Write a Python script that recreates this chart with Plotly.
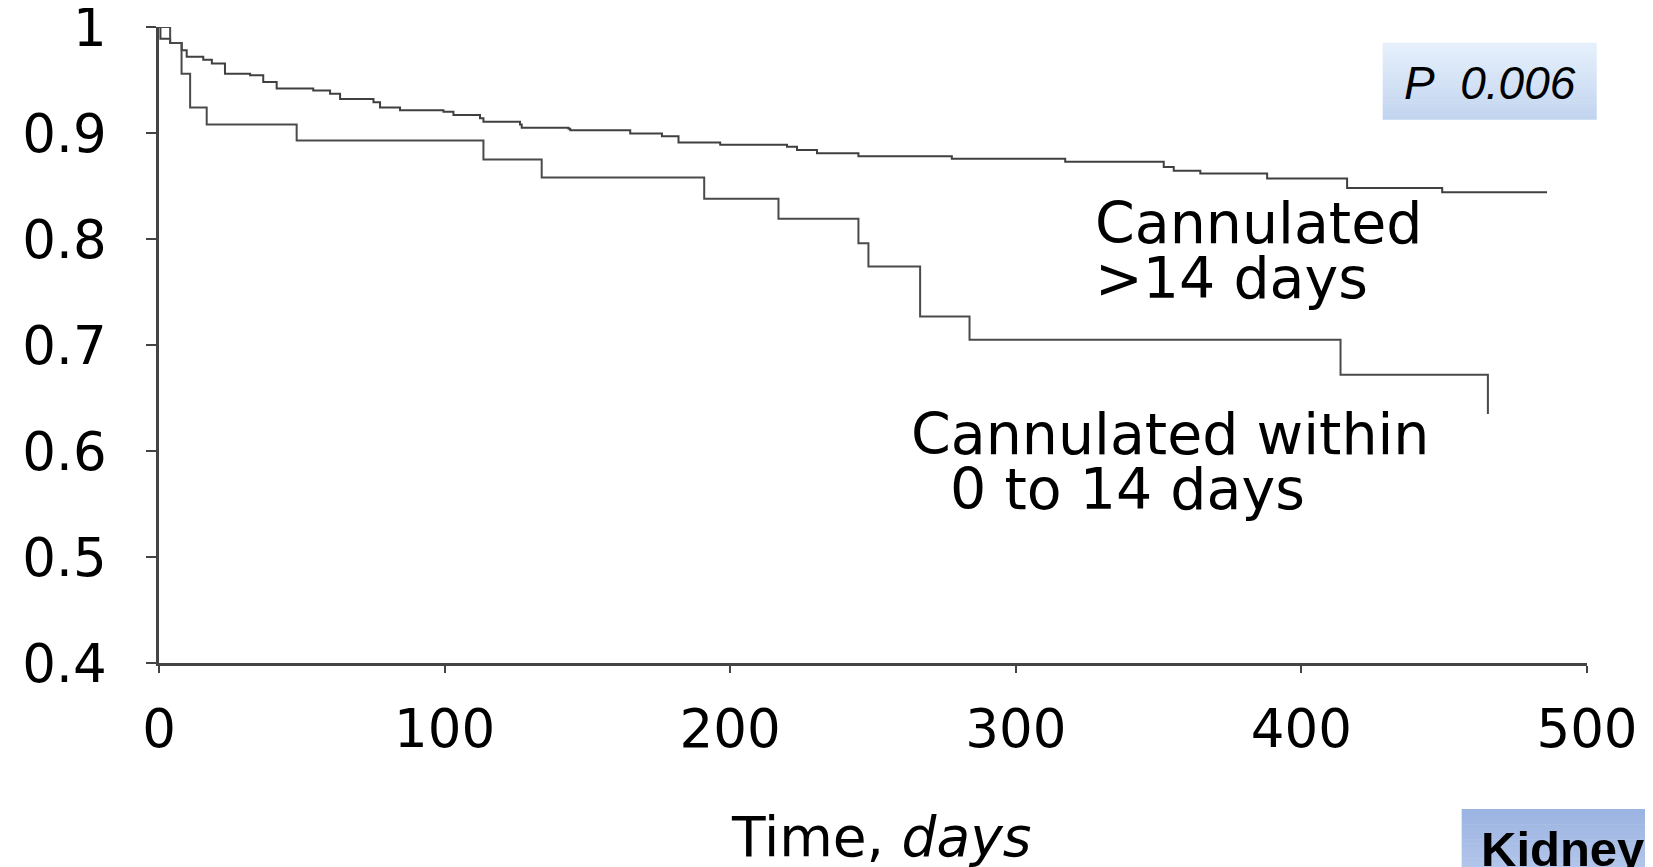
import plotly.graph_objects as go

# ---- data ----
late_days = [0, 0.5, 3.9, 7.95, 9.7, 15.5, 18.5, 23.1, 31.9, 36.5, 41.2, 54.0, 59.9, 63.4,
             75.1, 77.4, 84.4, 99.6, 103.1, 112.4, 113.6, 126.4, 127.0, 143.4, 144.0,
             165.0, 176.1, 181.9, 196.5, 219.9, 223.4, 230.4, 244.9, 277.6, 317.3,
             351.8, 355.3, 364.6, 388.0, 416.0, 449.3, 486.0]
late_surv = [1.0, 0.989, 0.985, 0.978, 0.972, 0.969, 0.9655, 0.956, 0.9545, 0.948, 0.942,
             0.940, 0.937, 0.932, 0.929, 0.924, 0.9215, 0.920, 0.917, 0.914, 0.9105,
             0.908, 0.905, 0.904, 0.9026, 0.8995, 0.897, 0.891, 0.889, 0.887, 0.884,
             0.881, 0.878, 0.8756, 0.8728, 0.868, 0.8643, 0.8618, 0.857, 0.848, 0.8442,
             0.8442]

early_days = [0, 3.9, 7.9, 10.9, 16.7, 48.2, 113.6, 134.0, 190.9, 216.9, 244.9, 248.4,
              266.5, 283.8, 413.7, 465.3]
early_surv = [1.0, 0.985, 0.956, 0.924, 0.908, 0.893, 0.875, 0.858, 0.838, 0.819, 0.796,
              0.774, 0.727, 0.705, 0.672, 0.635]

y_ticks = [0.4, 0.5, 0.6, 0.7, 0.8, 0.9, 1.0]
y_ticktext = ["0.4", "0.5", "0.6", "0.7", "0.8", "0.9", "1"]
x_ticks = [0, 100, 200, 300, 400, 500]

# page offset of the default body margin
OFF = 8
W, H = 1653 - OFF, 867 - OFF
# plot area in page pixels: x 159..1587, y 27..663
ML, MT = 159 - OFF, 27 - OFF
MR = 1653 - 1587
MB = 867 - 663
PW, PH = W - ML - MR, H - MT - MB


def px(p):
    """page x pixel -> paper fraction"""
    return (p - OFF - ML) / PW


def py(p):
    """page y pixel -> paper fraction"""
    return (H - MB - (p - OFF)) / PH


fig = go.Figure()
fig.add_trace(go.Scatter(x=late_days, y=late_surv, mode="lines", line_shape="hv",
                         line=dict(color="#404040", width=2), showlegend=False,
                         name="Cannulated >14 days"))
fig.add_trace(go.Scatter(x=early_days, y=early_surv, mode="lines", line_shape="hv",
                         line=dict(color="#4a4a4a", width=2), showlegend=False,
                         name="Cannulated within 0 to 14 days"))

tickfont = dict(family="DejaVu Sans", size=53, color="black")
fig.update_xaxes(range=[0, 500], tickvals=x_ticks, ticks="outside", ticklen=7, tickwidth=2,
                 tickcolor="#444", showline=True, linecolor="#444", linewidth=2.5,
                 showgrid=False, zeroline=False, tickfont=tickfont, ticklabelstandoff=11,
                 ticklabeloverflow="allow")
fig.update_yaxes(range=[0.4, 1.0], tickvals=y_ticks, ticktext=y_ticktext, ticks="outside",
                 ticklen=10, tickwidth=2, tickcolor="#444", showline=True, linecolor="#444",
                 linewidth=2.5, showgrid=False, zeroline=False, tickfont=tickfont,
                 ticklabelstandoff=29, ticklabeloverflow="allow")

shapes = []
n = 24


def grad_box(x0, x1, y0, y1, c_top, c_bot):
    for i in range(n):
        t = i / (n - 1)
        c = tuple(round(c_top[k] + (c_bot[k] - c_top[k]) * t) for k in range(3))
        ya = y0 + (y1 - y0) * i / n
        yb = y0 + (y1 - y0) * (i + 1) / n + 0.5
        shapes.append(dict(type="rect", xref="paper", yref="paper", x0=px(x0), x1=px(x1),
                           y0=py(yb), y1=py(ya), line=dict(width=0),
                           fillcolor="rgb(%d,%d,%d)" % c, layer="below"))


grad_box(1382.7, 1596.7, 42.7, 119.3, (230, 240, 252), (194, 213, 239))
grad_box(1461.7, 1700, 809, 900, (156, 180, 226), (190, 206, 238))

lab = dict(family="DejaVu Sans", size=57, color="black")
annotations = [
    dict(text="Cannulated", x=px(1093), y=py(223), xanchor="left", yanchor="middle", font=lab),
    dict(text="&gt;14 days", x=px(1093), y=py(278), xanchor="left", yanchor="middle", font=lab),
    dict(text="Cannulated within", x=px(909), y=py(434), xanchor="left", yanchor="middle", font=lab),
    dict(text="0 to 14 days", x=px(948), y=py(489), xanchor="left", yanchor="middle", font=lab),
    dict(text="Time, <i>days</i>", x=px(881), y=py(837), xanchor="center", yanchor="middle",
         font=dict(family="DejaVu Sans", size=55, color="black")),
    dict(text="<i>P\u00a0 0.006</i>", x=px(1489.6), y=py(83), xanchor="center", yanchor="middle",
         font=dict(family="Liberation Sans", size=46, color="black")),
    dict(text="<b>Kidney</b>", x=px(1479), y=py(849), xanchor="left", yanchor="middle",
         font=dict(family="Liberation Sans", size=49, color="black")),
]
for a in annotations:
    a.update(xref="paper", yref="paper", showarrow=False)

fig.update_layout(width=W, height=H, margin=dict(l=ML, r=MR, t=MT, b=MB, autoexpand=False),
                  plot_bgcolor="white", paper_bgcolor="white", shapes=shapes,
                  annotations=annotations, showlegend=False)

fig.write_html("out.html")
